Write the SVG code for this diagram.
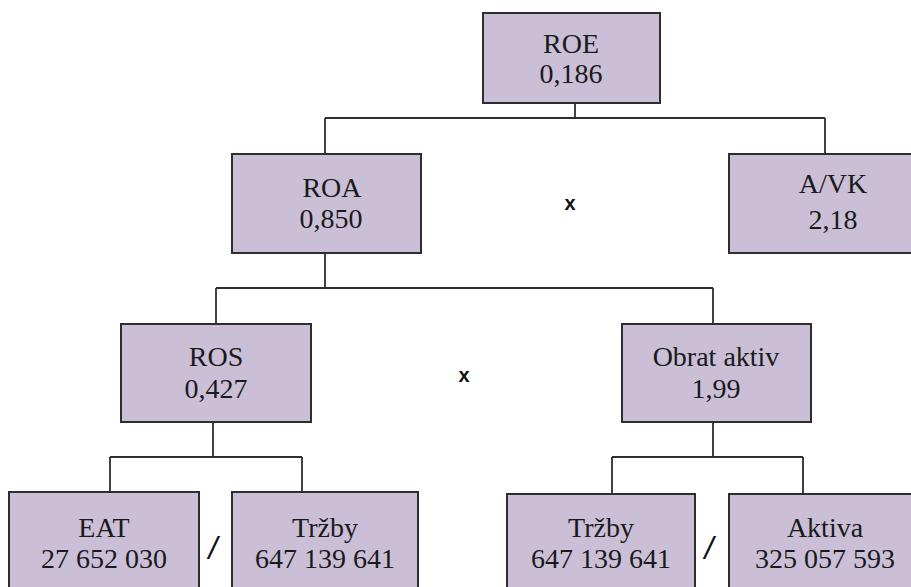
<svg xmlns="http://www.w3.org/2000/svg" width="911" height="587" viewBox="0 0 911 587">
  <style>
    .box { fill: #CBBFD8; stroke: #2e2e2e; stroke-width: 2; }
    .lbl { font-family: "Times New Roman", "Liberation Serif", Tinos, serif; font-size: 28px; fill: #1a1a1a; text-anchor: middle; }
    .op { font-family: "Liberation Sans", Arial, sans-serif; font-size: 20px; font-weight: bold; fill: #111; text-anchor: middle; }
    .div { font-family: "Liberation Sans", Arial, sans-serif; font-size: 32px; font-style: italic; fill: #111; text-anchor: middle; }
    .wire { fill: none; stroke: #2e2e2e; stroke-width: 1.8; }
  </style>
  <rect width="911" height="587" fill="#ffffff"/>

  <!-- tree connectors -->
  <g id="connectors">
    <path class="wire" d="M575,103 V118 M325,118 H825 M325,118 V154 M825,118 V154"/>
    <path class="wire" d="M325,253 V288 M216,288 H713 M216,288 V324 M713,288 V324"/>
    <path class="wire" d="M213,422 V457 M110,457 H302 M110,457 V492 M302,457 V492"/>
    <path class="wire" d="M713,422 V457 M612,457 H803 M612,457 V494 M803,457 V494"/>
  </g>

  <g id="roe">
    <rect class="box" x="483" y="13" width="177" height="90"/>
    <text class="lbl" x="571" y="53">ROE</text>
    <text class="lbl" x="571" y="83">0,186</text>
  </g>

  <g id="roa">
    <rect class="box" x="232" y="154" width="189" height="99"/>
    <text class="lbl" x="332" y="197">ROA</text>
    <text class="lbl" x="331" y="228">0,850</text>
  </g>

  <g id="avk">
    <rect class="box" x="729" y="154" width="208" height="99"/>
    <text class="lbl" x="833" y="193">A/VK</text>
    <text class="lbl" x="833" y="229">2,18</text>
  </g>

  <g id="ros">
    <rect class="box" x="121" y="324" width="190" height="98"/>
    <text class="lbl" x="216" y="366">ROS</text>
    <text class="lbl" x="216" y="398">0,427</text>
  </g>

  <g id="obrat-aktiv">
    <rect class="box" x="622" y="324" width="189" height="98"/>
    <text class="lbl" x="716" y="366">Obrat aktiv</text>
    <text class="lbl" x="716" y="398">1,99</text>
  </g>

  <g id="eat">
    <rect class="box" x="9" y="492" width="190" height="120"/>
    <text class="lbl" x="104" y="537">EAT</text>
    <text class="lbl" x="104" y="568">27 652 030</text>
  </g>

  <g id="trzby-1">
    <rect class="box" x="232" y="492" width="186" height="120"/>
    <text class="lbl" x="325" y="537">Tržby</text>
    <text class="lbl" x="325" y="568">647 139 641</text>
  </g>

  <g id="trzby-2">
    <rect class="box" x="507" y="494" width="188" height="120"/>
    <text class="lbl" x="601" y="537">Tržby</text>
    <text class="lbl" x="601" y="568">647 139 641</text>
  </g>

  <g id="aktiva">
    <rect class="box" x="729" y="494" width="192" height="120"/>
    <text class="lbl" x="825" y="537">Aktiva</text>
    <text class="lbl" x="825" y="568">325 057 593</text>
  </g>

  <!-- operators between factors -->
  <g id="operators">
    <text class="op" x="570" y="210">x</text>
    <text class="op" x="464" y="382">x</text>
    <text class="div" x="213" y="559">/</text>
    <text class="div" x="709" y="559">/</text>
  </g>
</svg>
